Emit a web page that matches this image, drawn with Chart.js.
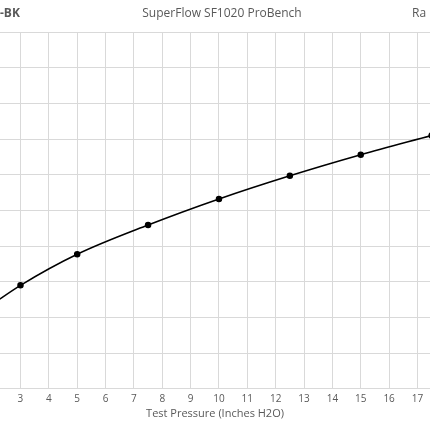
<!DOCTYPE html>
<html><head><meta charset="utf-8">
<script src="https://cdn.jsdelivr.net/npm/chart.js@4"></script>
<style>html,body{margin:0;padding:0;background:#fff;overflow:hidden}#c{display:block;position:absolute;left:-6px;top:0}</style>
</head><body>
<canvas id="c" width="442" height="430"></canvas>
<script>
const pressure = [2, 3, 5, 7.5, 10, 12.5, 15, 17.5];
const flow = [2.37, 2.90, 3.77, 4.59, 5.32, 5.97, 6.56, 7.1];
const xTicks = [3,4,5,6,7,8,9,10,11,12,13,14,15,16,17];

const titles = {
  id: 'titles',
  afterDraw(chart) {
    const c = chart.ctx;
    c.save();
    c.fillStyle = '#595959';
    c.textBaseline = 'middle';
    c.font = '12px "Open Sans", Calibri, sans-serif';
    c.textAlign = 'center';
    c.fillText('SuperFlow SF1020 ProBench', 228, 14);
    c.textAlign = 'left';
    c.fillText('Ra', 418, 14);
    c.font = 'bold 12px "Open Sans", Calibri, sans-serif';
    c.fillText('-BK', 6, 14);
    c.restore();
  }
};

new Chart(document.getElementById('c'), {
  type: 'line',
  data: { datasets: [{
    data: pressure.map((p, i) => ({ x: p, y: flow[i] })),
    borderColor: '#000', borderWidth: 1.5,
    pointBackgroundColor: '#000', pointBorderColor: '#000', pointRadius: 2.5,
    cubicInterpolationMode: 'monotone'
  }]},
  options: {
    responsive: false, animation: false,
    layout: { padding: { top: 32, bottom: 10, left: 0, right: 0 } },
    plugins: { legend: { display: false }, tooltip: { enabled: false } },
    scales: {
      x: {
        type: 'linear', min: 2.26, max: 17.46,
        afterBuildTicks: s => { s.ticks = xTicks.map(v => ({ value: v })); },
        grid: { color: '#d9d9d9', drawTicks: false },
        border: { color: '#d9d9d9' },
        ticks: { color: '#595959', font: { size: 10, family: '"Open Sans", Calibri, sans-serif' }, padding: 4 },
        title: { display: true, text: 'Test Pressure (Inches H2O)', color: '#595959', font: { size: 11, family: '"Open Sans", Calibri, sans-serif' }, padding: { top: -2, bottom: 0 } }
      },
      y: {
        min: 0, max: 10,
        ticks: { stepSize: 1, display: false },
        grid: { color: '#d9d9d9', drawTicks: false },
        border: { display: false },
        afterFit: s => { s.width = 0; }
      }
    }
  },
  plugins: [titles]
});
</script>
</body></html>
